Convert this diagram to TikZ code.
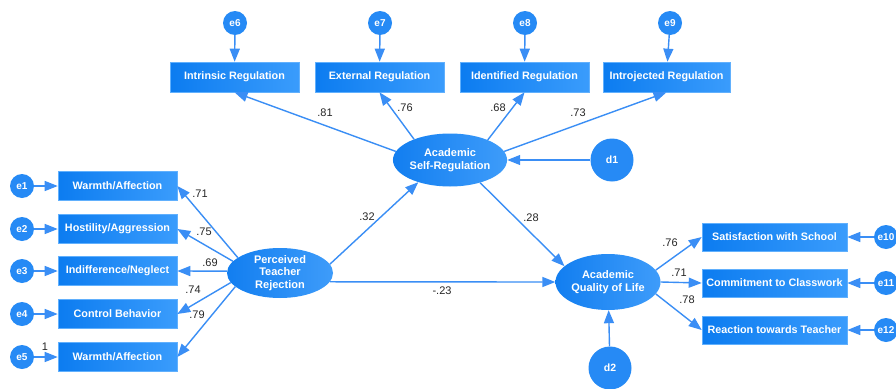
\documentclass[tikz,border=0pt]{standalone}
\usepackage{fontspec}
\setmainfont{Liberation Sans}
\usetikzlibrary{arrows.meta,shapes.geometric}
\definecolor{lineblue}{RGB}{58,142,245}
\definecolor{boxL}{RGB}{12,124,240}
\definecolor{boxR}{RGB}{58,156,252}
\definecolor{circ}{RGB}{38,138,245}
\definecolor{ellL}{RGB}{18,126,240}
\definecolor{ellR}{RGB}{62,156,250}
\tikzset{
 obs/.style={rectangle, left color=boxL, right color=boxR, draw=boxR!80!white, line width=0.6pt,
   text=white, font=\bfseries\fontsize{10.8}{12}\selectfont, inner sep=0pt, minimum height=29pt},
 lat/.style={ellipse, left color=ellL, right color=ellR, text=white,
   font=\bfseries\fontsize{11}{12.5}\selectfont, align=center, inner sep=0pt},
 err/.style={circle, fill=circ, text=white, font=\bfseries\fontsize{10}{12}\selectfont,
   minimum size=24pt, inner sep=0pt},
 dist/.style={circle, fill=circ, text=white, font=\bfseries\fontsize{10.5}{12}\selectfont,
   minimum size=43pt, inner sep=0pt},
 arr/.style={draw=lineblue, line width=1.4pt, -{Triangle[length=13pt,width=10pt]}},
 lbl/.style={font=\fontsize{11}{12}\selectfont, text=black!85, inner sep=0pt}
}
\begin{document}
\begin{tikzpicture}[x=1pt,y=-1pt]
\useasboundingbox (0,0) rectangle (896,388);
\fill[white] (0,0) rectangle (896,388);
% latent variables
\node[lat, minimum width=106pt, minimum height=50pt] (ptr) at (280,273) {Perceived\\Teacher\\Rejection};
\node[lat, minimum width=106pt, minimum height=53pt] (asr) at (450,160) {Academic\\Self-Regulation};
\node[lat, minimum width=105pt, minimum height=56pt] (aql) at (608,282) {Academic\\Quality of Life};
% left indicators
\node[obs, minimum width=119pt] (w1) at (117.5,186) {Warmth/Affection};
\node[obs, minimum width=119pt] (w2) at (117.5,229) {Hostility/Aggression};
\node[obs, minimum width=119pt] (w3) at (117.5,271) {Indifference/Neglect};
\node[obs, minimum width=119pt] (w4) at (117.5,314) {Control Behavior};
\node[obs, minimum width=119pt] (w5) at (117.5,357) {Warmth/Affection};
\node[err] (e1) at (22,186) {e1};
\node[err] (e2) at (22,229) {e2};
\node[err] (e3) at (22,271) {e3};
\node[err] (e4) at (22,314) {e4};
\node[err] (e5) at (22,357) {e5};
% top indicators
\node[obs, minimum width=129pt, minimum height=30pt] (t1) at (234.5,77) {Intrinsic Regulation};
\node[obs, minimum width=129pt, minimum height=30pt] (t2) at (379.5,77) {External Regulation};
\node[obs, minimum width=129pt, minimum height=30pt] (t3) at (524.5,77) {Identified Regulation};
\node[obs, minimum width=127pt, minimum height=30pt] (t4) at (666.5,77) {Introjected Regulation};
\node[err] (e6) at (235,23) {e6};
\node[err] (e7) at (380,23) {e7};
\node[err] (e8) at (525,23) {e8};
\node[err] (e9) at (670,23) {e9};
% right indicators
\node[obs, minimum width=145pt, minimum height=28pt] (r1) at (774.5,237) {Satisfaction with School};
\node[obs, minimum width=145pt, minimum height=28pt] (r2) at (774.5,283) {Commitment to Classwork};
\node[obs, minimum width=145pt, minimum height=28pt] (r3) at (774.5,330) {Reaction towards Teacher};
\node[err] (e10) at (886,237) {e10};
\node[err] (e11) at (886,283) {e11};
\node[err] (e12) at (886,330) {e12};
% disturbances
\node[dist] (d1) at (612,160) {d1};
\node[dist] (d2) at (610,368) {d2};
% error arrows
\foreach \e/\b in {e1/w1,e2/w2,e3/w3,e4/w4,e5/w5,e6/t1,e7/t2,e8/t3,e9/t4,e10/r1,e11/r2,e12/r3}
  \draw[arr] (\e) -- (\b);
\draw[arr] (d1.west) -- (asr.east);
\draw[arr] (d2) -- (aql);
% loadings
\draw[arr] (ptr.160) -- (w1.east);
\draw[arr] (ptr.166) -- (w2.east);
\draw[arr] (ptr.178) -- (w3.east);
\draw[arr] (ptr.191) -- (w4.east);
\draw[arr] (ptr.197) -- (w5.east);
\draw[arr] (asr.171) -- (t1.south);
\draw[arr] (asr.150) -- (t2.south);
\draw[arr] (asr.28) -- (t3.south);
\draw[arr] (asr.9) -- (t4.south);
\draw[arr] (aql.14) -- (r1.west);
\draw[arr] (aql.east) -- (r2.west);
\draw[arr] (aql.-14) -- (r3.west);
% structural paths
\draw[arr] (ptr.10) -- (asr.215);
\draw[arr] (asr.-37) -- (aql.160);
\draw[arr] (ptr.-10) -- (aql.west);
% labels
\node[lbl] (l1) at (200,194) {.71};
\node[lbl] (l2) at (204,232) {.75};
\node[lbl] (l3) at (210,263) {.69};
\node[lbl] (l4) at (193,290) {.74};
\node[lbl] (l5) at (197,315) {.79};
\node[lbl] (l6) at (45,347) {1};
\node[lbl] (l7) at (325,113) {.81};
\node[lbl] (l8) at (405,108) {.76};
\node[lbl] (l9) at (498,108) {.68};
\node[lbl] (l10) at (578,113) {.73};
\node[lbl] (l11) at (367,217) {.32};
\node[lbl] (l12) at (531,218) {.28};
\node[lbl] (l13) at (442,291) {-.23};
\node[lbl] (l14) at (670,243) {.76};
\node[lbl] (l15) at (679,273) {.71};
\node[lbl] (l16) at (687,300) {.78};
\end{tikzpicture}
\end{document}
